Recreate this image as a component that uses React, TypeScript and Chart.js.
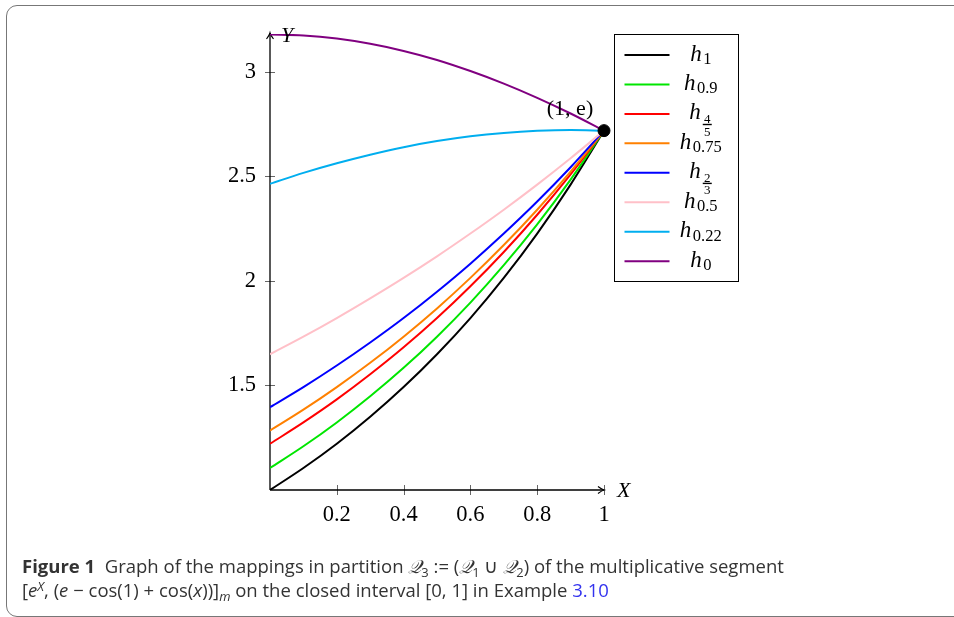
import React, { useEffect, useRef } from "react";
import { Chart, registerables } from "chart.js";

Chart.register(...registerables);

// ---- data ----
const xs = [0, 0.1, 0.2, 0.3, 0.4, 0.5, 0.6, 0.7, 0.8, 0.9, 1];
const h1 = [1.0, 1.105, 1.221, 1.35, 1.492, 1.649, 1.822, 2.014, 2.226, 2.46, 2.718];
const h09 = [1.105, 1.209, 1.323, 1.448, 1.584, 1.733, 1.896, 2.075, 2.27, 2.484, 2.718];
const h45 = [1.221, 1.323, 1.433, 1.553, 1.682, 1.822, 1.974, 2.138, 2.316, 2.509, 2.718];
const h075 = [1.284, 1.384, 1.492, 1.608, 1.733, 1.868, 2.014, 2.171, 2.34, 2.522, 2.718];
const h23 = [1.396, 1.492, 1.595, 1.705, 1.822, 1.948, 2.082, 2.226, 2.379, 2.543, 2.718];
const h05 = [1.649, 1.733, 1.822, 1.916, 2.014, 2.117, 2.226, 2.34, 2.46, 2.586, 2.718];
const h022 = [2.464, 2.516, 2.562, 2.603, 2.639, 2.668, 2.691, 2.707, 2.717, 2.721, 2.718];
const h0 = [3.178, 3.173, 3.158, 3.133, 3.099, 3.056, 3.003, 2.943, 2.875, 2.8, 2.718];

const seriesValues = [h1, h09, h45, h075, h23, h05, h022, h0];
const seriesSubscripts = ["1", "0.9", "4/5", "0.75", "2/3", "0.5", "0.22", "0"];
const seriesColors = ["#000000", "#00e600", "#ff0000", "#ff8000", "#0000ff", "#ffc0c8", "#00aeef", "#800080"];

const xTicks = [0.2, 0.4, 0.6, 0.8, 1];
const yTicks = [1.5, 2, 2.5, 3];
const markX = [1];
const markY = [2.718];
const markLabel = "(1, e)";
const xAxisTitle = "X";
const yAxisTitle = "Y";

const SERIF = "'Liberation Serif', 'DejaVu Serif', serif";

function drawLegend(ctx: CanvasRenderingContext2D, area: any) {
  const lx = Math.round(area.right) + 10.5;
  const ly = Math.round(area.top) + 0.5;
  const lw = 124;
  const lh = 247;
  ctx.save();
  ctx.fillStyle = "#ffffff";
  ctx.fillRect(lx, ly, lw, lh);
  ctx.strokeStyle = "#000";
  ctx.lineWidth = 1;
  ctx.strokeRect(lx, ly, lw, lh);
  const step = 29.45;
  seriesSubscripts.forEach((sub, i) => {
    const cy = ly + 20.5 + i * step;
    ctx.strokeStyle = seriesColors[i];
    ctx.lineWidth = 2;
    ctx.beginPath();
    ctx.moveTo(lx + 10, cy);
    ctx.lineTo(lx + 55, cy);
    ctx.stroke();

    const base = cy + 5.5;
    ctx.fillStyle = "#000";
    ctx.textBaseline = "alphabetic";
    ctx.textAlign = "left";
    ctx.font = `italic 23px ${SERIF}`;
    const hW = ctx.measureText("h").width;
    const isFrac = sub.includes("/");
    let subW = 0;
    if (isFrac) {
      subW = 10;
    } else {
      ctx.font = `16.5px ${SERIF}`;
      subW = ctx.measureText(sub).width;
    }
    const total = hW + 1 + subW;
    const start = lx + 86 - total / 2;
    ctx.font = `italic 23px ${SERIF}`;
    ctx.fillText("h", start, base);
    const sx = start + hW + 1.5;
    if (isFrac) {
      const [num, den] = sub.split("/");
      const fx = sx + subW / 2;
      const barY = base + 5;
      ctx.font = `13px ${SERIF}`;
      ctx.textAlign = "center";
      ctx.textBaseline = "alphabetic";
      ctx.fillText(num, fx, barY - 1.5);
      ctx.textBaseline = "top";
      ctx.fillText(den, fx, barY + 1.2);
      ctx.fillRect(fx - 4.5, barY - 0.6, 9, 1.4);
    } else {
      ctx.font = `16.5px ${SERIF}`;
      ctx.fillText(sub, sx, base + 3.5);
    }
  });
  ctx.restore();
}

const decorPlugin = {
  id: "decor",
  beforeDatasetsDraw(chart: any) {
    const { ctx, chartArea, scales } = chart;
    const x = scales.x;
    const y = scales.y;
    const x0 = x.getPixelForValue(0);
    const y0 = y.getPixelForValue(1);
    ctx.save();
    ctx.strokeStyle = "#666";
    ctx.lineWidth = 1;
    yTicks.forEach((v) => {
      const py = Math.round(y.getPixelForValue(v)) + 0.5;
      ctx.beginPath();
      ctx.moveTo(x0 - 5, py);
      ctx.lineTo(x0 + 5, py);
      ctx.stroke();
    });
    xTicks.forEach((v) => {
      const px = Math.round(x.getPixelForValue(v)) + 0.5;
      ctx.beginPath();
      ctx.moveTo(px, y0 - 5);
      ctx.lineTo(px, y0 + 5);
      ctx.stroke();
    });
    ctx.strokeStyle = "#000";
    ctx.lineWidth = 1.3;
    const topY = chartArea.top - 1;
    const rightX = chartArea.right;
    ctx.beginPath();
    ctx.moveTo(x0, y0);
    ctx.lineTo(x0, topY);
    ctx.moveTo(x0, y0);
    ctx.lineTo(rightX, y0);
    ctx.stroke();
    ctx.lineWidth = 1.2;
    ctx.beginPath();
    ctx.moveTo(x0 - 3.5, topY + 6);
    ctx.quadraticCurveTo(x0 - 0.5, topY + 2, x0, topY);
    ctx.quadraticCurveTo(x0 + 0.5, topY + 2, x0 + 3.5, topY + 6);
    ctx.moveTo(rightX - 6, y0 - 3.5);
    ctx.quadraticCurveTo(rightX - 2, y0 - 0.5, rightX, y0);
    ctx.quadraticCurveTo(rightX - 2, y0 + 0.5, rightX - 6, y0 + 3.5);
    ctx.stroke();
    ctx.restore();
  },
  afterDatasetsDraw(chart: any) {
    const { ctx, chartArea, scales } = chart;
    const x = scales.x;
    const y = scales.y;
    ctx.save();
    ctx.fillStyle = "#000";
    ctx.font = `italic 22px ${SERIF}`;
    ctx.textAlign = "left";
    ctx.textBaseline = "middle";
    ctx.fillText(yAxisTitle, x.getPixelForValue(0) + 11, chartArea.top + 2);
    ctx.fillText(xAxisTitle, chartArea.right + 13, y.getPixelForValue(1) + 1);
    ctx.font = `22px ${SERIF}`;
    ctx.textAlign = "center";
    ctx.fillText(markLabel, x.getPixelForValue(markX[0]) - 34, y.getPixelForValue(markY[0]) - 21);
    ctx.restore();
    drawLegend(ctx, chartArea);
  },
};

export default function App() {
  const canvasRef = useRef<HTMLCanvasElement | null>(null);

  useEffect(() => {
    const canvas = canvasRef.current;
    if (!canvas) return;
    const datasets: any[] = seriesValues.map((vals, i) => ({
      type: "line",
      label: "h" + seriesSubscripts[i],
      data: xs.map((xv, j) => ({ x: xv, y: vals[j] })),
      borderColor: seriesColors[i],
      backgroundColor: seriesColors[i],
      borderWidth: 2,
      pointRadius: 0,
      fill: false,
      cubicInterpolationMode: "monotone",
      order: seriesValues.length - i,
    }));
    datasets.push({
      type: "scatter",
      label: "point",
      data: markX.map((xv, j) => ({ x: xv, y: markY[j] })),
      backgroundColor: "#000",
      borderColor: "#000",
      pointRadius: 6,
      clip: false,
      order: -1,
    });

    const chart = new Chart(canvas, {
      type: "line",
      data: { datasets },
      plugins: [decorPlugin],
      options: {
        animation: false,
        responsive: false,
        devicePixelRatio: 1,
        layout: { padding: { left: 0, top: 34, right: 350, bottom: 0 } },
        plugins: { legend: { display: false }, tooltip: { enabled: false } },
        scales: {
          x: {
            type: "linear",
            min: 0,
            max: 1,
            grid: { display: false },
            border: { display: false },
            afterBuildTicks: (s: any) => {
              s.ticks = xTicks.map((v) => ({ value: v }));
            },
            afterFit: (s: any) => {
              s.height = 127;
            },
            ticks: {
              autoSkip: false,
              maxRotation: 0,
              padding: 4,
              color: "#000",
              font: { family: SERIF, size: 22.5 },
              callback: (v: any) => String(v),
            },
          },
          y: {
            type: "linear",
            min: 1,
            max: 3.18,
            grid: { display: false },
            border: { display: false },
            afterBuildTicks: (s: any) => {
              s.ticks = yTicks.map((v) => ({ value: v }));
            },
            afterFit: (s: any) => {
              s.width = 270;
            },
            ticks: {
              autoSkip: false,
              padding: 6,
              color: "#000",
              font: { family: SERIF, size: 22.5 },
              callback: (v: any) => String(v),
            },
          },
        },
      } as any,
    });
    return () => chart.destroy();
  }, []);

  const it: React.CSSProperties = { fontStyle: "italic" };
  const subS: React.CSSProperties = { fontSize: "0.7em", position: "relative", top: "0.3em", verticalAlign: "baseline" };
  const supS: React.CSSProperties = { fontSize: "0.7em", position: "relative", top: "-0.45em", verticalAlign: "baseline" };
  const Q = (n?: string) => (
    <span>
      <span style={{ fontFamily: "'DejaVu Serif', serif", fontStyle: "italic" }}>𝒬</span>
      {n ? <span style={subS}>{n}</span> : null}
    </span>
  );

  return (
    <div style={{ position: "absolute", left: 0, top: 0, width: 954, height: 617, overflow: "hidden", background: "#fff" }}>
      <div
        style={{
          position: "absolute",
          left: 6,
          top: 5,
          width: 1100,
          height: 612,
          border: "1.5px solid #777",
          borderRadius: 11,
          boxSizing: "border-box",
        }}
      />
      <canvas ref={canvasRef} width={954} height={617} style={{ position: "absolute", left: 0, top: 0, width: 954, height: 617 }} />
      <div
        style={{
          position: "absolute",
          left: 22,
          top: 555,
          fontFamily: "'Open Sans', Lato, sans-serif",
          fontSize: 18.5,
          lineHeight: "22px",
          color: "#333",
          whiteSpace: "nowrap",
        }}
      >
        <div>
          <b>Figure 1</b>&nbsp;&nbsp;Graph of the mappings in partition {Q("3")} := ({Q("1")} ∪ {Q("2")}) of the multiplicative segment
        </div>
        <div>
          [<span style={it}>e</span>
          <span style={{ ...supS, ...it }}>X</span>, (<span style={it}>e</span> − cos(1) + cos(<span style={it}>x</span>))]
          <span style={{ ...subS, ...it }}>m</span> on the closed interval [0, 1] in Example{" "}
          <span style={{ color: "#3333ee" }}>3.10</span>
        </div>
      </div>
    </div>
  );
}
